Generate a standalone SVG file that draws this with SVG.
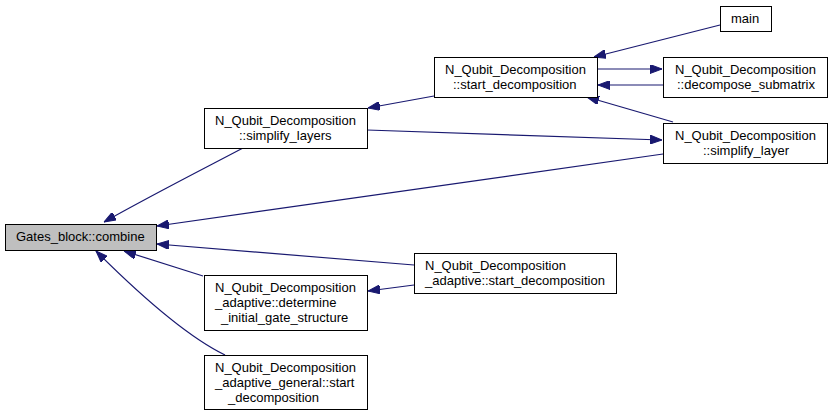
<svg xmlns="http://www.w3.org/2000/svg" width="832" height="416" viewBox="0 0 832 416">
<style>
.n rect{fill:#fff;stroke:#000;stroke-width:1}
.n text{font-family:"Liberation Sans",Arial,Helvetica,sans-serif;font-size:13px;fill:#000}
#e path{fill:none;stroke:#191970;stroke-width:1.2;marker-end:url(#ah)}
</style>
<defs>
<marker id="ah" viewBox="0 0 12 9" refX="12" refY="4.5" markerWidth="12" markerHeight="9" markerUnits="userSpaceOnUse" orient="auto">
<path d="M0,0 L12,4.5 L0,9 Z" fill="#191970" stroke="#191970" stroke-width="1"/>
</marker>
</defs>
<rect width="832" height="416" fill="#fff"/>
<g id="e">
<path d="M243,148 C205,168 150,196 104,222"/>
<path d="M663,154 L157,226"/>
<path d="M414,265 L157,244"/>
<path d="M203,276 L124,251"/>
<path d="M225,355 C188,337 145,300 96,251"/>
<path d="M414,285 L368,291"/>
<path d="M434,96 L368,108"/>
<path d="M367,130 L662,140"/>
<path d="M720,25 L594,57"/>
<path d="M597,69 L662,69"/>
<path d="M663,85 L598,85"/>
<path d="M673,122 L587,97"/>
</g>
<g id="combine" class="n"><rect x="5.5" y="224.5" width="151" height="26" style="fill:#bfbfbf"/><text x="16" y="241">Gates_block::combine</text></g>
<g id="simplify_layers" class="n"><rect x="204.5" y="108.5" width="163" height="40"/><text x="215" y="124.5">N_Qubit_Decomposition</text><text x="239" y="139.5">::simplify_layers</text></g>
<g id="determine" class="n"><rect x="204.5" y="275.5" width="163" height="55"/><text x="215" y="291.5">N_Qubit_Decomposition</text><text x="215" y="306.5">_adaptive::determine</text><text x="221" y="321.5">_initial_gate_structure</text></g>
<g id="adaptive_general" class="n"><rect x="204.5" y="355.5" width="163" height="54"/><text x="215" y="371.5">N_Qubit_Decomposition</text><text x="215" y="386.5">_adaptive_general::start</text><text x="228" y="401.5">_decomposition</text></g>
<g id="start_decomposition" class="n"><rect x="434.5" y="57.5" width="163" height="40"/><text x="445" y="73.5">N_Qubit_Decomposition</text><text x="453" y="88.5">::start_decomposition</text></g>
<g id="adaptive_start" class="n"><rect x="414.5" y="253.5" width="202" height="40"/><text x="425" y="269.5">N_Qubit_Decomposition</text><text x="425" y="284.5">_adaptive::start_decomposition</text></g>
<g id="main" class="n"><rect x="720.5" y="6.5" width="51" height="25"/><text x="731" y="23">main</text></g>
<g id="decompose_submatrix" class="n"><rect x="663.5" y="57.5" width="164" height="40"/><text x="675" y="73.5">N_Qubit_Decomposition</text><text x="677" y="88.5">::decompose_submatrix</text></g>
<g id="simplify_layer" class="n"><rect x="663.5" y="123.5" width="164" height="40"/><text x="675" y="139.5">N_Qubit_Decomposition</text><text x="703" y="154.5">::simplify_layer</text></g>
</svg>
